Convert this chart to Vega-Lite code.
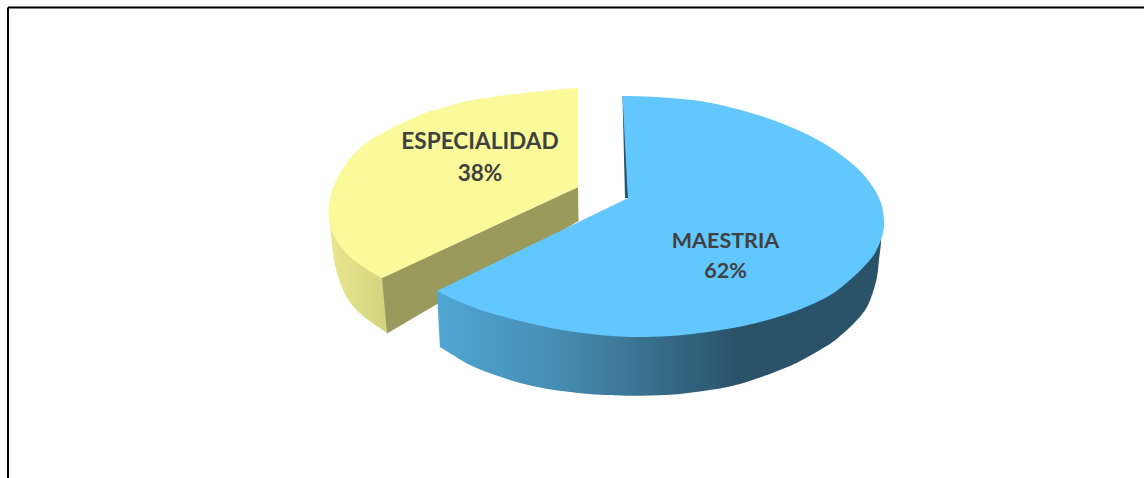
{"$schema":"https://vega.github.io/schema/vega-lite/v6.json","width":1144,"height":478,"padding":0,"autosize":{"type":"none"},"background":"white","config":{"view":{"stroke":null}},
"datasets":{
"frame":[{"x":8,"x2":8,"y":7.5,"y2":478},{"x":8,"x2":1144,"y":7.5,"y2":7.5}],
"ySide":[{"o":1,"x":345,"y":215},{"o":2,"x":385,"y":285},{"o":3,"x":386.8,"y":331},{"o":4,"x":387,"y":333},{"o":5,"x":385,"y":331.6},{"o":6,"x":362,"y":315},{"o":7,"x":346,"y":296},{"o":8,"x":335,"y":265},{"o":9,"x":330,"y":225},{"o":10,"x":329,"y":210}],
"yIn":[{"o":1,"x":382,"y":278},{"o":2,"x":578,"y":187},{"o":3,"x":578.5,"y":221},{"o":4,"x":387,"y":333.5}],
"yTop":[{"o":1,"x":578,"y":88},{"o":2,"x":576,"y":88.1},{"o":3,"x":553,"y":90},{"o":4,"x":520,"y":93.5},{"o":5,"x":492,"y":97},{"o":6,"x":465,"y":101.5},{"o":7,"x":437,"y":109.5},{"o":8,"x":425,"y":113},{"o":9,"x":392,"y":128},{"o":10,"x":365,"y":144},{"o":11,"x":345,"y":165},{"o":12,"x":333,"y":188},{"o":13,"x":328.5,"y":210},{"o":14,"x":329.5,"y":220},{"o":15,"x":334,"y":236},{"o":16,"x":348,"y":255},{"o":17,"x":365,"y":268},{"o":18,"x":380,"y":277},{"o":19,"x":382,"y":278},{"o":20,"x":384,"y":277},{"o":21,"x":576,"y":188},{"o":22,"x":578,"y":187}],
"bIn":[{"o":1,"x":622.5,"y":96},{"o":2,"x":625,"y":198},{"o":3,"x":630,"y":198},{"o":4,"x":626,"y":100}],
"bSide":[{"o":1,"x":437,"y":291},{"o":2,"x":437.1,"y":293},{"o":3,"x":439.9,"y":345},{"o":4,"x":440,"y":347},{"o":5,"x":442,"y":348.2},{"o":6,"x":470,"y":365},{"o":7,"x":495,"y":375},{"o":8,"x":520,"y":383},{"o":9,"x":545,"y":388.5},{"o":10,"x":570,"y":392},{"o":11,"x":595,"y":394.5},{"o":12,"x":620,"y":395.5},{"o":13,"x":640,"y":395.8},{"o":14,"x":660,"y":395.3},{"o":15,"x":680,"y":394},{"o":16,"x":700,"y":391.5},{"o":17,"x":720,"y":388.5},{"o":18,"x":740,"y":384},{"o":19,"x":760,"y":377.5},{"o":20,"x":775,"y":372},{"o":21,"x":790,"y":366},{"o":22,"x":805,"y":358.5},{"o":23,"x":820,"y":350},{"o":24,"x":834,"y":341},{"o":25,"x":847,"y":330},{"o":26,"x":858,"y":319},{"o":27,"x":867,"y":307},{"o":28,"x":873,"y":292},{"o":29,"x":877,"y":277},{"o":30,"x":879,"y":260},{"o":31,"x":881,"y":240},{"o":32,"x":878,"y":232},{"o":33,"x":850,"y":234},{"o":34,"x":700,"y":250},{"o":35,"x":500,"y":285}],
"bTop":[{"o":1,"x":622.5,"y":96},{"o":2,"x":624.5,"y":96},{"o":3,"x":645,"y":96.5},{"o":4,"x":670,"y":98},{"o":5,"x":700,"y":101},{"o":6,"x":733,"y":108},{"o":7,"x":767,"y":118},{"o":8,"x":800,"y":131},{"o":9,"x":825,"y":144},{"o":10,"x":845,"y":158},{"o":11,"x":860,"y":171},{"o":12,"x":873,"y":187},{"o":13,"x":881,"y":203},{"o":14,"x":884,"y":220},{"o":15,"x":883,"y":233},{"o":16,"x":878,"y":247},{"o":17,"x":870,"y":260},{"o":18,"x":850,"y":280},{"o":19,"x":827,"y":297},{"o":20,"x":793,"y":312},{"o":21,"x":760,"y":322},{"o":22,"x":733,"y":328},{"o":23,"x":700,"y":333},{"o":24,"x":670,"y":336},{"o":25,"x":637,"y":337},{"o":26,"x":612,"y":336},{"o":27,"x":587,"y":333.5},{"o":28,"x":562,"y":330},{"o":29,"x":537,"y":325},{"o":30,"x":512,"y":319},{"o":31,"x":487,"y":312},{"o":32,"x":470,"y":306},{"o":33,"x":453,"y":299},{"o":34,"x":439,"y":292},{"o":35,"x":437,"y":291},{"o":36,"x":439,"y":290},{"o":37,"x":626,"y":199},{"o":38,"x":628,"y":198},{"o":39,"x":627.9,"y":196},{"o":40,"x":622.6,"y":98},{"o":41,"x":622.5,"y":96}],
"labels":[{"g":"a","t":"ESPECIALIDAD","x":480,"y":142},{"g":"a","t":"38%","x":480,"y":174},{"g":"b","t":"MAESTRIA","x":725.5,"y":242},{"g":"b","t":"62%","x":725.5,"y":272}]
},
"layer":[
{"data":{"name":"frame"},"mark":{"type":"rule","color":"black","strokeWidth":2},"encoding":{"x":{"field":"x","type":"quantitative","scale":{"domain":[0,1144]},"axis":null},"x2":{"field":"x2"},"y":{"field":"y","type":"quantitative","scale":{"domain":[478,0]},"axis":null},"y2":{"field":"y2"}}},
{"data":{"name":"ySide"},"mark":{"type":"line","interpolate":"cardinal","strokeWidth":0,"fill":{"gradient":"linear","x1":0,"x2":1,"y1":0,"y2":0,"stops":[{"offset":0,"color":"#e9e88f"},{"offset":1,"color":"#d2d27f"}]}},"encoding":{"x":{"field":"x","type":"quantitative","scale":{"domain":[0,1144]},"axis":null},"y":{"field":"y","type":"quantitative","scale":{"domain":[478,0]},"axis":null},"order":{"field":"o"}}},
{"data":{"name":"yIn"},"mark":{"type":"line","strokeWidth":0,"fill":"#9a9a5c"},"encoding":{"x":{"field":"x","type":"quantitative","scale":{"domain":[0,1144]},"axis":null},"y":{"field":"y","type":"quantitative","scale":{"domain":[478,0]},"axis":null},"order":{"field":"o"}}},
{"data":{"name":"yTop"},"mark":{"type":"line","interpolate":"cardinal","strokeWidth":0,"fill":"#fbfa9b"},"encoding":{"x":{"field":"x","type":"quantitative","scale":{"domain":[0,1144]},"axis":null},"y":{"field":"y","type":"quantitative","scale":{"domain":[478,0]},"axis":null},"order":{"field":"o"}}},
{"data":{"name":"bIn"},"mark":{"type":"line","strokeWidth":0,"fill":"#2a5269"},"encoding":{"x":{"field":"x","type":"quantitative","scale":{"domain":[0,1144]},"axis":null},"y":{"field":"y","type":"quantitative","scale":{"domain":[478,0]},"axis":null},"order":{"field":"o"}}},
{"data":{"name":"bSide"},"mark":{"type":"line","interpolate":"cardinal","strokeWidth":0,"fill":{"gradient":"linear","x1":0,"x2":1,"y1":0,"y2":0,"stops":[{"offset":0,"color":"#50a6d4"},{"offset":0.3,"color":"#4489ad"},{"offset":0.68,"color":"#2a5269"},{"offset":1,"color":"#2a5269"}]}},"encoding":{"x":{"field":"x","type":"quantitative","scale":{"domain":[0,1144]},"axis":null},"y":{"field":"y","type":"quantitative","scale":{"domain":[478,0]},"axis":null},"order":{"field":"o"}}},
{"data":{"name":"bTop"},"mark":{"type":"line","interpolate":"cardinal","strokeWidth":0,"fill":"#62c7fd"},"encoding":{"x":{"field":"x","type":"quantitative","scale":{"domain":[0,1144]},"axis":null},"y":{"field":"y","type":"quantitative","scale":{"domain":[478,0]},"axis":null},"order":{"field":"o"}}},
{"data":{"name":"labels"},"transform":[{"filter":"datum.g === 'a'"}],"mark":{"type":"text","font":"Lato","fontWeight":"bold","fontSize":22.6,"color":"#404040","align":"center","baseline":"middle"},"encoding":{"x":{"field":"x","type":"quantitative","scale":{"domain":[0,1144]},"axis":null},"y":{"field":"y","type":"quantitative","scale":{"domain":[478,0]},"axis":null},"text":{"field":"t"}}},
{"data":{"name":"labels"},"transform":[{"filter":"datum.g === 'b'"}],"mark":{"type":"text","font":"Lato","fontWeight":"bold","fontSize":21.5,"color":"#404040","align":"center","baseline":"middle"},"encoding":{"x":{"field":"x","type":"quantitative","scale":{"domain":[0,1144]},"axis":null},"y":{"field":"y","type":"quantitative","scale":{"domain":[478,0]},"axis":null},"text":{"field":"t"}}}
]}
